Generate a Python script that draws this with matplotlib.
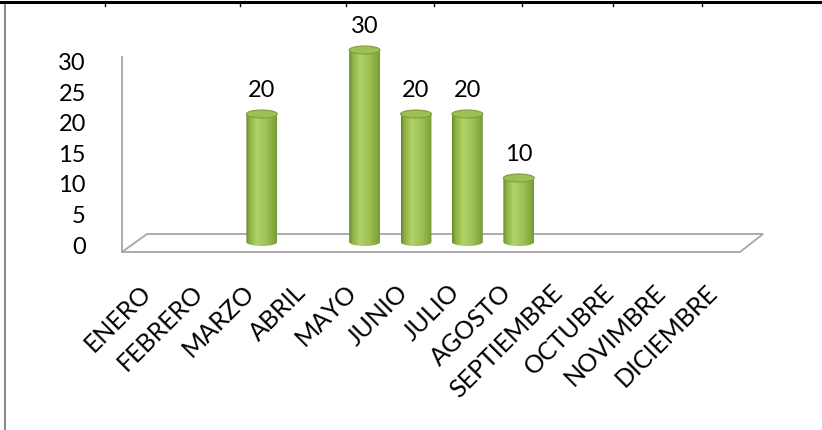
import matplotlib
matplotlib.use('Agg')
import matplotlib.pyplot as plt
import numpy as np
from matplotlib.patches import Ellipse, Polygon
from matplotlib.lines import Line2D
from matplotlib.colors import to_rgb

plt.rcParams['font.family'] = ['Lato', 'DejaVu Sans']

# Datos
meses = ['ENERO', 'FEBRERO', 'MARZO', 'ABRIL', 'MAYO', 'JUNIO', 'JULIO',
         'AGOSTO', 'SEPTIEMBRE', 'OCTUBRE', 'NOVIMBRE', 'DICIEMBRE']
valores = [0, 0, 20, 0, 30, 20, 20, 10, 0, 0, 0, 0]
y_ticks = [0, 5, 10, 15, 20, 25, 30]

W, H = 822, 430
fig = plt.figure(figsize=(W / 100, H / 100), dpi=100)


def fx(px):
    return px / W


def fy(py):
    return 1 - py / H


# Marco de la tabla
fig.add_artist(Line2D([0, 1], [fy(2), fy(2)], color='black', lw=2.2))
for px in [105, 240, 346, 434, 522, 613, 702]:
    fig.add_artist(Line2D([fx(px), fx(px)], [fy(2), fy(6)], color='black', lw=1))
fig.add_artist(Line2D([fx(5), fx(5)], [fy(5), 0], color='#8c8c8c', lw=1.5))

# Suelo 3D y eje vertical
piso = [(122, 252), (740, 252), (763, 234), (147, 234)]
fig.add_artist(Polygon([(fx(a), fy(b)) for a, b in piso], closed=True,
                       facecolor='white', edgecolor='#a6a6a6', lw=1.3, zorder=0))
fig.add_artist(Line2D([fx(122), fx(122)], [fy(57), fy(252)], color='#a6a6a6', lw=1.3, zorder=0))

# Eje principal (cilindros)
ax = fig.add_axes([0, 0, 1, 1])
ax.set_zorder(3)
ax.axis('off')

ancho = 0.6
alto_elipse = 1.25
paradas = [0.0, 0.12, 0.35, 0.65, 0.9, 1.0]
tonos = ['#6a8a2c', '#8fb344', '#b0d26a', '#9fc255', '#86a93d', '#76983a']
perfil = np.array([to_rgb(c) for c in tonos])
t = np.linspace(0, 1, 64)
grad = np.stack([np.interp(t, paradas, perfil[:, k]) for k in range(3)], axis=-1)[None, :, :]

for i, v in enumerate(valores):
    if v <= 0:
        continue
    x0, x1 = i - ancho / 2, i + ancho / 2
    ang = np.linspace(np.pi, 2 * np.pi, 40)
    arco = np.column_stack([i + ancho / 2 * np.cos(ang), alto_elipse / 2 * np.sin(ang)])
    contorno = np.vstack([arco, [[x1, v], [x0, v]]])
    clip = Polygon(contorno, closed=True, transform=ax.transData, facecolor='none', edgecolor='none')
    ax.add_patch(clip)
    img = ax.imshow(grad, extent=(x0, x1, -alto_elipse, v), aspect='auto', zorder=2)
    img.set_clip_path(clip)
    ax.add_patch(Ellipse((i, v), ancho, alto_elipse, facecolor='#9dbf55',
                         edgecolor='#7f9f3c', lw=0.8, zorder=3))
    ax.text(i, v + 3.7, str(v), ha='center', va='center', fontsize=17, color='black')

ax.set_xlim(-159 / 51.4, (W - 159) / 51.4)
ax.set_ylim(-188 / 6.4, (H - 188) / 6.4)

for i, m in enumerate(meses):
    ax.text(i - 0.22, -7.3, m, rotation=45, ha='right', va='center',
            rotation_mode='anchor', fontsize=18, color='black')

# Etiquetas del eje Y
ax_y = fig.add_axes([fx(122), fy(245), 0.001, fy(61.5) - fy(245)])
ax_y.set_ylim(0, 30)
ax_y.set_yticks(y_ticks)
ax_y.set_yticklabels([str(v) for v in y_ticks], fontsize=17)
ax_y.tick_params(axis='y', length=0, pad=26)
ax_y.set_xticks([])
for s in ax_y.spines.values():
    s.set_visible(False)
ax_y.patch.set_alpha(0)

plt.savefig('out.png', dpi=100)
